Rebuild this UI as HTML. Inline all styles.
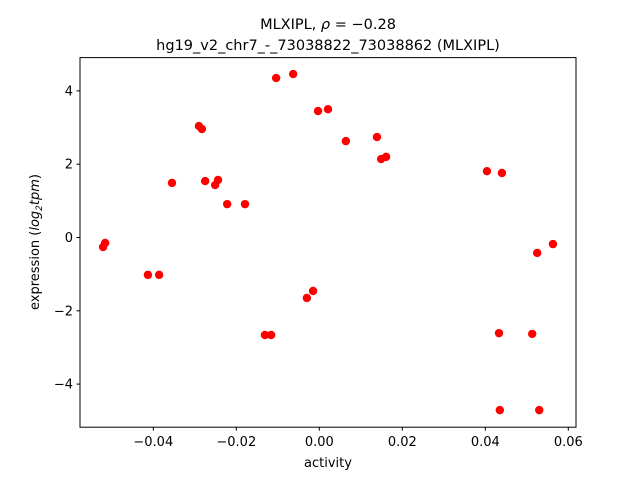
<!DOCTYPE html>
<html><head><meta charset="utf-8"><style>
body{margin:0;background:#fff;font-family:"Liberation Sans","DejaVu Sans",sans-serif}
svg text{font-family:"DejaVu Sans","Liberation Sans",sans-serif;fill:#000}
</style></head><body>
<svg id="chart" width="640" height="480" xmlns="http://www.w3.org/2000/svg">
<rect width="640" height="480" fill="#fff"/>
<text x="328" y="29" font-size="14.5" text-anchor="middle">MLXIPL, <tspan font-style="italic">ρ</tspan> = −0.28</text>
<text x="328" y="50" font-size="14.5" text-anchor="middle">hg19_v2_chr7_-_73038822_73038862 (MLXIPL)</text>
<g id="points"></g>
<rect x="80" y="57.6" width="496" height="369.6" fill="none" stroke="#000" stroke-width="1"/>
<g id="xticks"></g><g id="yticks"></g>
<text x="328" y="467" font-size="13" text-anchor="middle">activity</text>
<text transform="translate(39,242) rotate(-90)" font-size="13" text-anchor="middle">expression (<tspan font-style="italic">log</tspan><tspan font-size="9" dy="3" font-style="italic">2</tspan><tspan dy="-3" font-style="italic">tpm</tspan>)</text>
</svg>
<script>
const activity=[-0.0521,-0.0516,-0.0413,-0.0386,-0.0355,-0.0290,-0.0283,-0.0275,-0.0251,-0.0244,-0.0222,-0.0179,-0.0131,-0.0116,-0.0104,-0.0063,-0.0030,-0.0015,-0.0003,0.0021,0.0064,0.0139,0.0149,0.0161,0.0404,0.0440,0.0433,0.0435,0.0513,0.0525,0.0530,0.0563];
const expression=[-0.26,-0.15,-1.02,-1.02,1.49,3.04,2.96,1.54,1.43,1.57,0.91,0.91,-2.66,-2.66,4.35,4.46,-1.65,-1.46,3.45,3.50,2.63,2.74,2.14,2.20,1.81,1.76,-2.61,-4.71,-2.63,-0.42,-4.71,-0.18];
const xTicks=[-0.04,-0.02,0.00,0.02,0.04,0.06];
const xTickLabels=["−0.04","−0.02","0.00","0.02","0.04","0.06"];
const yTicks=[4,2,0,-2,-4];
const yTickLabels=["4","2","0","−2","−4"];
const NS="http://www.w3.org/2000/svg";
const xS=v=>319.3+v*4150;
const yS=v=>237.5-v*36.65;
const pts=document.getElementById('points');
for(let i=0;i<activity.length;i++){
 const c=document.createElementNS(NS,'circle');
 c.setAttribute('cx',xS(activity[i]));c.setAttribute('cy',yS(expression[i]));
 c.setAttribute('r',4.2);c.setAttribute('fill','#ff0000');
 
 
 pts.appendChild(c);
}
const xt=document.getElementById('xticks');
xTicks.forEach((v,i)=>{
 const x=xS(v);
 const l=document.createElementNS(NS,'line');
 l.setAttribute('x1',x);l.setAttribute('x2',x);l.setAttribute('y1',427.2);l.setAttribute('y2',430.7);l.setAttribute('stroke','#000');
 
 
 xt.appendChild(l);
 const t=document.createElementNS(NS,'text');
 t.setAttribute('x',x);t.setAttribute('y',446);t.setAttribute('font-size','13');t.setAttribute('text-anchor','middle');
 t.textContent=xTickLabels[i];
 
 
 xt.appendChild(t);
});
const yt=document.getElementById('yticks');
yTicks.forEach((v,i)=>{
 const y=yS(v);
 const l=document.createElementNS(NS,'line');
 l.setAttribute('x1',76.5);l.setAttribute('x2',80);l.setAttribute('y1',y);l.setAttribute('y2',y);l.setAttribute('stroke','#000');
 
 
 yt.appendChild(l);
 const t=document.createElementNS(NS,'text');
 t.setAttribute('x',73);t.setAttribute('y',y+4.5);t.setAttribute('font-size','13');t.setAttribute('text-anchor','end');
 t.textContent=yTickLabels[i];
 
 
 yt.appendChild(t);
});
</script>
</body></html>
